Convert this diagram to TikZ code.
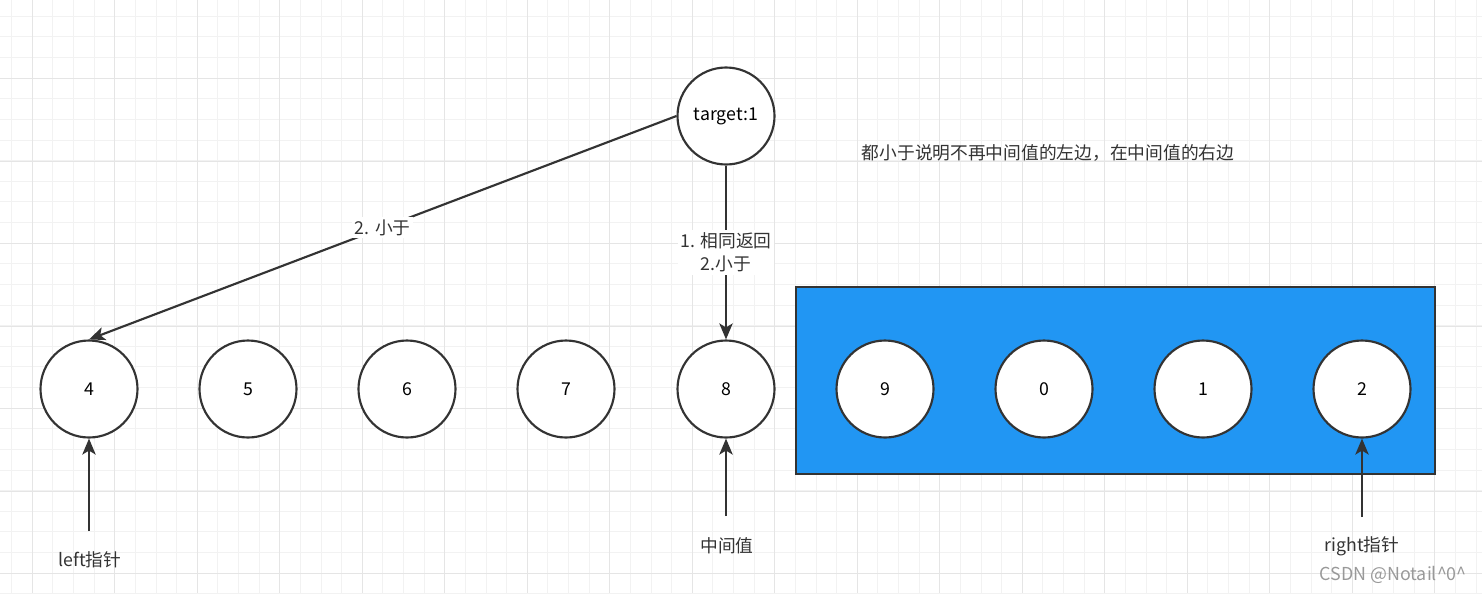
\documentclass[tikz,border=0pt]{standalone}
\usepackage{fontspec}
\newfontfamily\cjk{Noto Sans CJK SC}
\usetikzlibrary{arrows.meta}
\definecolor{r51g51b51}{rgb}{0.200000,0.200000,0.200000}
\definecolor{r33g150b243}{rgb}{0.129412,0.588235,0.952941}
\definecolor{gridminor}{rgb}{0.950000,0.950000,0.950000}
\definecolor{gridmajor}{rgb}{0.900000,0.900000,0.900000}
\tikzset{
  ball/.style={circle, draw=r51g51b51, line width=1.6pt, fill=white, minimum size=72.75pt, inner sep=0pt},
  arr/.style={draw=r51g51b51, line width=1.6pt, -{Stealth[length=12pt, width=10pt, inset=3pt]}},
  lab/.style={fill=white, inner sep=2pt, text=r51g51b51},
  txt/.style={text=r51g51b51, inner sep=0pt}
}
\begin{document}
\begin{tikzpicture}[x=0.75pt, y=-0.75pt, font=\cjk\fontsize{13.3}{17}\selectfont]
% \clip (0,0) rectangle (1482,593);
\useasboundingbox (0,0) rectangle (1482,593);%

% Drawing background grid
\foreach \k in {-1,...,70}
  \draw [gridminor, line width=0.75pt] ({32.3+20.625*\k},0) -- ++(0,593);%
\foreach \k in {0,...,29}
  \draw [gridminor, line width=0.75pt] (0,{-4.3+20.625*\k}) -- ++(1482,0);%
\foreach \k in {0,...,17}
  \draw [gridmajor, line width=0.75pt] ({32.3+82.5*\k},0) -- ++(0,593);%
\foreach \k in {-1,...,6}
  \draw [gridmajor, line width=0.75pt] (0,{78.8+82.5*\k}) -- ++(1482,0);%

% Drawing blue block (right half)
\draw [draw=r51g51b51, fill=r33g150b243, line width=1.6pt] (796,287) rectangle (1435,474);%

% Drawing target and array
\node [ball] (tgt) at (726,116) {target:1};%
\node [ball] (i0) at (89,389) {4};%
\node [ball] (i1) at (248,389) {5};%
\node [ball] (i2) at (407,389) {6};%
\node [ball] (i3) at (566,389) {7};%
\node [ball] (i4) at (726,389) {8};%
\node [ball] (i5) at (885,389) {9};%
\node [ball] (i6) at (1044,389) {0};%
\node [ball] (i7) at (1203,389) {1};%
\node [ball] (i8) at (1362,389) {2};%

% Drawing comparisons
\draw [arr] (tgt.west) -- node [lab] {2. 小于} (i0.north);%
\draw [arr] (tgt.south) -- node [lab, align=center] {1. 相同返回\\2.小于} (i4.north);%

% Drawing pointers
\coordinate (lp) at (89,531);%
\coordinate (mp) at (726,516);%
\coordinate (rp) at (1362,517);%
\draw [arr] (lp) -- (i0.south);%
\draw [arr] (mp) -- (i4.south);%
\draw [arr] (rp) -- (i8.south);%
\node [txt] (lpl) at (90,560) {left指针};%
\node [txt] (mpl) at (727,546) {中间值};%
\node [txt] (rpl) at (1362,546) {right指针};%

% Drawing note
\node [txt] (note) at (1048,153) {都小于说明不再中间值的左边，在中间值的右边};%

% Drawing watermark
\node [text=black!40, inner sep=0pt, anchor=east, font=\cjk\fontsize{13.4}{16}\selectfont] (mark) at (1467,575) {CSDN @Notail\^{}0\^{}};%
\end{tikzpicture}
\end{document}
